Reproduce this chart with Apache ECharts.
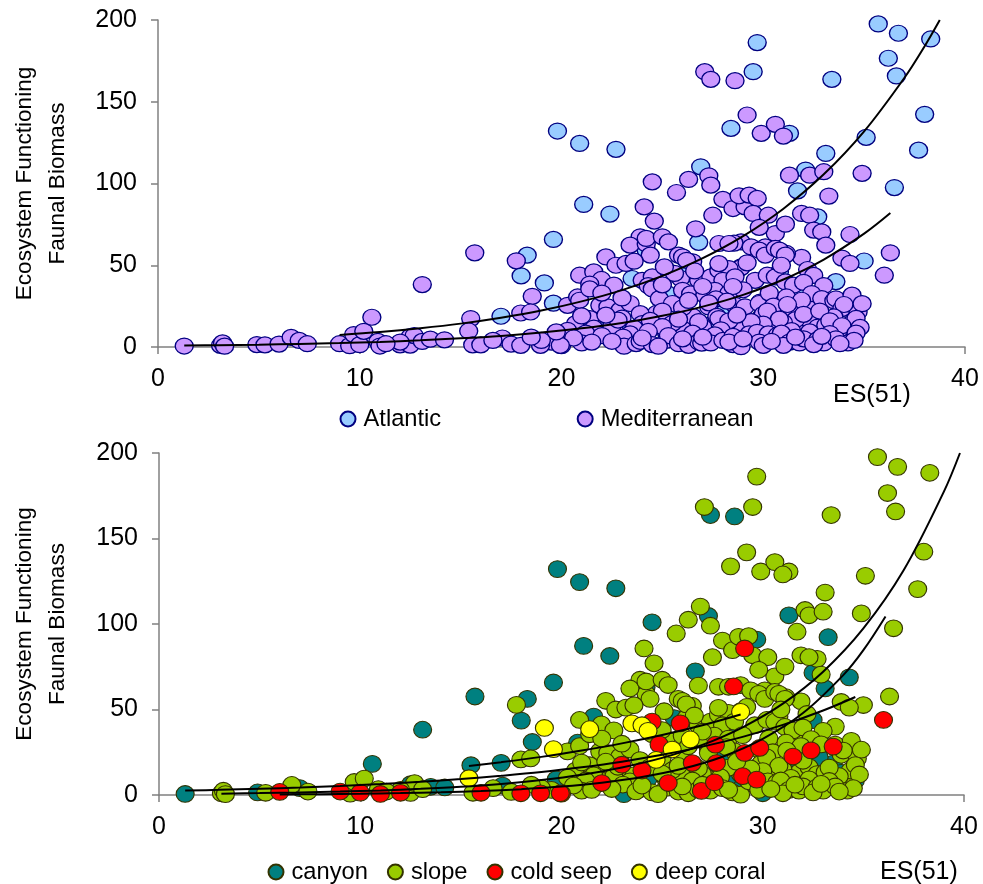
<!DOCTYPE html>
<html>
<head>
<meta charset="utf-8">
<script src="https://cdn.jsdelivr.net/npm/echarts@6/dist/echarts.min.js"></script>
<style>
html,body{margin:0;padding:0;background:#fff;}
#chart{width:983px;height:884px;}
</style>
</head>
<body>
<div id="chart"></div>
<script>
// ---- DATA ----
// each point: [ES(51), faunal biomass, habitat code]  (c = canyon, s = slope, r = cold seep, y = deep coral)
const atlantic = [
  [19.8,132.1,'c'],[20.9,124.5,'c'],[22.7,120.9,'c'],
  [29.7,186.2,'s'],[29.5,168.4,'s'],[35.7,197.6,'s'],[36.7,191.9,'s'],[38.3,188.4,'s'],[36.2,176.6,'s'],
  [36.6,165.8,'s'],[33.4,163.7,'s'],[38.0,142.3,'s'],[28.4,133.7,'s'],[31.3,130.7,'s'],[37.7,120.4,'s'],
  [35.1,128.2,'s'],[33.1,118.4,'s'],[26.9,110.2,'s'],[32.1,108.2,'s'],[36.5,97.5,'s'],[31.7,95.5,'s'],
  [21.1,87.2,'c'],[22.4,81.3,'c'],[19.6,65.8,'c'],[26.8,64.0,'s'],[32.7,79.6,'s'],[35.0,52.6,'s'],[30.8,45.9,'s'],
  [18.3,56.2,'c'],[18.0,43.5,'c'],[19.15,39.2,'y'],[19.6,26.8,'y'],[17.0,18.8,'c'],[23.5,41.9,'y'],[24.2,59.2,'s'],
  [21.2,4.5,'c'],[27.5,14.3,'s'],[29.6,6.1,'s'],[34.4,6.1,'s'],[28.9,49.0,'s'],
  [25.2,33.0,'s'],[22.0,14.0,'s'],[30.2,20.0,'s'],[26.2,45.0,'s'],[31.9,35.0,'s'],[28.0,22.0,'c'],[33.6,40.0,'s'],[23.0,10.0,'s']
];
const mediterranean = [
  // upper scatter
  [27.1,168.4,'s'],[27.4,163.7,'c'],[28.6,162.9,'c'],[29.2,141.9,'s'],[29.9,130.7,'s'],[30.6,136.2,'s'],[31.0,129.0,'s'],
  [27.3,104.7,'c'],[27.4,99.0,'s'],[26.3,102.5,'s'],[24.5,101.0,'c'],[25.7,94.5,'s'],[31.3,105.1,'c'],[32.3,105.1,'s'],
  [33.0,107.2,'s'],[34.9,106.2,'s'],[33.25,92.3,'c'],[36.3,57.6,'s'],[36.0,43.9,'r'],
  [24.1,85.7,'s'],[24.6,77.0,'s'],[27.5,80.6,'s'],[28.0,90.3,'s'],[28.5,84.7,'s'],[29.1,85.7,'r'],[28.8,92.5,'s'],
  [29.3,92.9,'s'],[29.7,90.9,'c'],[29.5,81.7,'s'],[30.25,80.6,'s'],[30.6,69.4,'s'],[31.1,75.1,'s'],[29.8,73.2,'s'],
  [26.65,72.3,'c'],[31.9,81.7,'s'],[32.3,80.6,'s'],[32.5,71.5,'c'],[32.9,70.4,'s'],[33.1,62.3,'c'],[34.3,68.8,'c'],
  [33.9,54.4,'s'],[34.3,51.1,'s'],[31.9,54.8,'s'],[32.2,47.4,'s'],[32.5,43.8,'c'],[30.1,61.2,'s'],[31.15,57.2,'s'],
  [28.9,64.3,'s'],[28.55,63.5,'r'],[29.4,61.2,'s'],[29.8,59.2,'s'],[30.1,56.2,'s'],[30.6,60.3,'s'],[30.8,59.2,'s'],
  [31.1,56.2,'s'],[27.8,63.3,'s'],[28.3,63.3,'s'],[28.9,48.6,'y'],
  // middle band
  [23.9,67.4,'s'],[23.4,62.3,'s'],[24.2,63.0,'c'],[24.2,66.4,'s'],[25.0,67.4,'s'],[25.3,64.3,'s'],[24.4,56.2,'s'],
  [25.8,56.2,'s'],[26.0,55.1,'s'],[26.5,52.1,'s'],[26.2,53.0,'s'],[22.2,55.1,'s'],[22.7,50.0,'s'],[23.2,51.1,'s'],
  [23.6,52.5,'s'],[20.9,43.9,'s'],[21.6,45.9,'c'],[21.98,41.3,'s'],[24.0,40.8,'y'],[24.5,42.9,'r'],[25.9,41.9,'r'],
  [25.6,45.0,'c'],[26.8,40.8,'s'],[27.4,42.9,'s'],[27.8,47.0,'s'],[28.3,48.0,'s'],[28.0,40.8,'s'],[28.6,42.9,'s'],
  [29.6,40.8,'s'],[30.2,43.9,'s'],[30.6,42.9,'s'],[31.1,39.8,'s'],[31.5,37.8,'s'],
  [27.8,51.0,'s'],[26.6,46.5,'s'],[25.1,49.0,'s'],[29.2,51.5,'s'],[30.9,50.0,'s'],[33.0,37.5,'s'],[32.0,39.5,'s'],
  // lower band
  [20.3,25.5,'s'],[20.8,30.6,'c'],[20.9,28.6,'s'],[21.4,38.5,'y'],[21.4,35.5,'s'],[22.6,37.8,'s'],[21.9,25.5,'s'],
  [22.3,24.5,'s'],[22.9,22.5,'s'],[23.4,26.6,'s'],[24.3,37.5,'y'],[24.5,35.5,'s'],[24.85,29.6,'r'],[25.5,26.6,'y'],
  [26.0,34.7,'s'],[26.4,32.5,'y'],[27.1,31.7,'s'],[27.6,34.7,'s'],[28.3,33.0,'s'],[27.65,29.4,'r'],[28.6,25.5,'s'],
  [27.3,24.5,'s'],[29.1,24.6,'r'],[29.85,27.5,'r'],[29.8,26.6,'s'],[31.15,30.6,'s'],[31.5,22.5,'r'],[32.4,26.1,'r'],
  [32.4,32.7,'s'],[32.9,29.6,'s'],[33.5,28.3,'r'],[33.6,29.5,'s'],[34.4,31.7,'s'],[31.9,28.6,'s'],[33.9,23.5,'s'],
  [34.7,21.4,'s'],[24.7,20.5,'y'],[26.5,18.7,'r'],[25.0,22.0,'s'],[26.0,24.0,'s'],[29.0,35.0,'s'],[30.3,33.0,'s'],
  [30.5,25.0,'s'],[25.0,38.0,'s'],[23.0,30.0,'s'],[22.0,33.0,'s'],[27.0,37.0,'s'],[28.5,37.0,'c'],
  [34.0,26.0,'s'],[34.9,26.5,'s'],[31.2,26.0,'s'],[28.2,28.0,'s'],[27.3,27.0,'c'],[26.3,28.5,'s'],
  [20.7,14.3,'s'],[21.4,17.4,'s'],[23.0,17.7,'r'],[23.9,20.4,'s'],[24.0,14.3,'r'],[24.4,16.3,'s'],[27.7,18.7,'r'],
  [27.8,17.4,'s'],[27.0,12.2,'s'],[29.9,18.4,'s'],[28.9,12.2,'s'],[29.0,11.0,'r'],[31.8,13.3,'s'],[32.3,16.3,'s'],
  [31.6,16.7,'c'],[32.7,12.2,'s'],[33.1,13.3,'s'],[33.5,18.4,'c'],[34.35,14.3,'s'],[20.3,10.2,'s'],[22.1,8.2,'s'],
  [22.6,11.0,'s'],[25.2,9.0,'s'],[26.0,11.0,'s'],[23.6,11.5,'s'],[25.5,14.5,'s'],[21.0,19.0,'s'],[22.5,13.0,'c'],
  [26.8,15.5,'s'],[28.3,16.0,'s'],[30.5,12.5,'s'],[31.0,15.0,'s'],[33.8,11.0,'s'],[34.6,17.5,'s'],[30.0,20.0,'c'],
  [30.2,22.0,'s'],[30.8,17.0,'s'],[31.4,10.0,'s'],[32.0,20.0,'s'],[32.8,22.0,'c'],[33.3,16.0,'s'],[33.9,13.0,'c'],
  [34.8,12.0,'s'],[30.0,14.0,'s'],[29.4,15.5,'s'],[28.7,19.5,'s'],[25.8,17.0,'s'],[25.0,12.5,'s'],[24.3,9.5,'c'],
  [23.4,8.0,'s'],[22.8,16.5,'s'],[22.2,19.5,'s'],[21.6,11.5,'s'],[21.2,8.5,'s'],[26.5,8.5,'s'],[27.9,10.5,'s'],
  // base
  [20.0,0.8,'r'],[21.0,2.5,'s'],[22.0,7.0,'r'],[23.05,6.1,'s'],[23.1,0.5,'c'],[23.7,2.1,'s'],[23.9,3.5,'c'],
  [24.5,1.5,'s'],[25.2,4.1,'s'],[25.3,7.0,'r'],[25.8,2.0,'s'],[26.3,1.0,'s'],[26.8,3.1,'s'],[26.95,2.4,'r'],
  [27.6,7.4,'r'],[27.4,2.5,'s'],[28.0,4.0,'s'],[28.5,1.5,'s'],[28.9,0.2,'s'],[29.3,8.0,'s'],[29.7,9.0,'r'],
  [30.25,8.0,'s'],[30.6,5.0,'c'],[30.7,7.2,'s'],[30.9,8.5,'s'],[31.3,3.0,'s'],[31.8,2.5,'s'],[32.3,9.2,'s'],
  [32.0,5.0,'s'],[32.7,4.5,'s'],[33.3,8.2,'s'],[33.0,2.5,'s'],[33.6,5.0,'s'],[34.6,8.5,'c'],[34.2,2.5,'s'],
  [34.5,4.0,'s'],[21.5,3.0,'s'],[22.5,3.5,'s'],[24.0,5.5,'s'],[20.6,5.5,'s'],[19.5,3.0,'s'],[27.0,6.0,'s'],
  [28.5,6.5,'c'],[26.0,5.0,'s'],[29.8,3.0,'s'],[31.0,1.0,'s'],[32.5,1.5,'s'],[30.0,1.0,'c'],[24.8,0.5,'s'],
  [28.3,3.0,'s'],[29.0,5.0,'c'],[32.9,6.5,'s'],[33.8,2.0,'s'],[31.6,6.0,'s'],[30.4,3.5,'s'],
  // left part
  [1.3,0.6,'c'],[3.1,1.0,'s'],[3.2,2.5,'s'],[3.3,0.5,'s'],[4.9,1.5,'c'],[5.3,1.3,'s'],[6.0,1.8,'r'],[6.6,5.9,'s'],
  [7.0,4.0,'c'],[7.4,2.0,'s'],[9.0,2.0,'r'],[9.5,0.8,'s'],[9.7,7.6,'s'],[10.0,1.4,'r'],[10.2,9.6,'s'],[10.6,18.2,'c'],
  [10.9,3.4,'s'],[11.0,0.6,'r'],[12.0,1.3,'r'],[12.5,6.3,'c'],[12.5,1.2,'s'],[12.7,7.0,'s'],[13.1,3.4,'s'],
  [13.1,38.2,'c'],[13.5,4.8,'c'],[14.2,4.4,'c'],[15.7,57.6,'c'],[15.5,17.4,'c'],[15.4,9.8,'y'],[15.6,1.3,'s'],
  [16.0,1.3,'r'],[17.07,5.5,'c'],[17.5,1.8,'s'],[17.98,1.0,'r'],[17.76,52.7,'s'],[18.55,31.0,'c'],[17.98,20.8,'s'],
  [18.47,21.4,'s'],[18.96,1.0,'r'],[19.94,1.0,'r'],[19.74,9.2,'c'],[16.6,4.0,'s'],[19.0,4.0,'s'],[18.5,6.0,'s'],
  [12.0,3.0,'s'],[11.3,2.0,'s']
];

// trend lines: [ES(51), biomass]
const trendTopUpper = [[9,7.4],[11,9.2],[13,11.5],[15,14.3],[17,17.9],[19,22.3],[21,27.9],[23,34.8],[25,43.5],[27,54.3],[29,67.8],[31,84.6],[33,105.6],[35,131.9],[37,164.7],[38,184],[38.75,200]];
const trendTopLower = [[1.3,0.9],[3,1.1],[5,1.4],[7,1.9],[9,2.4],[11,3.1],[13,4.1],[15,5.3],[17,6.8],[19,8.8],[21,11.4],[23,14.7],[25,19.1],[27,24.7],[29,31.9],[31,41.3],[33,53.5],[35,69.3],[36.3,81.9]];
const trendSlope = [[3.1,0.8],[5,1.1],[7,1.5],[9,2.0],[11,2.7],[13,3.6],[15,4.8],[17,6.5],[19,8.8],[21,11.9],[23,16.1],[25,21.7],[27,29.3],[29,39.6],[31,53.4],[33,72.1],[35,97.4],[37,131.4],[39,177.4],[39.8,200]];
const trendSeep = [[6,0.3],[8,0.5],[10,0.7],[12,1.1],[14,1.6],[16,2.3],[18,3.4],[20,4.9],[22,7.2],[24,10.5],[26,15.3],[28,22.4],[30,32.8],[32,47.9],[34,70.1],[35,84.7],[36.1,104.4]];
const trendCanyon = [[1.3,2.6],[3,3.0],[5,3.65],[7,4.4],[9,5.3],[11,6.4],[13,7.7],[15,9.3],[17,11.2],[19,13.4],[21,16.2],[23,19.5],[25,23.5],[27,28.3],[29,34.0],[31,41.0],[33,49.4],[34.6,57.3]];
const trendCoral = [[15.4,17.0],[17,19.2],[19,22.3],[21,26.0],[23,30.2],[25,35.1],[27,40.8],[28.9,47.1]];

const regionNames = ['Atlantic','Mediterranean'];
const habitatCodes = ['c','s','r','y'];
const habitatNames = ['canyon','slope','cold seep','deep coral'];
const xTicks = [0,10,20,30,40];
const yTicks = [0,50,100,150,200];

// ---- CHART ----
const FONT = '"Liberation Sans", Arial, Helvetica, sans-serif';
const chart = echarts.init(document.getElementById('chart'), null, {renderer:'canvas'});

function xAx(gi){
  return {
    gridIndex: gi, type:'value', min: xTicks[0], max: xTicks[xTicks.length-1], interval: xTicks[1]-xTicks[0],
    axisLine:{show:true, onZero:false, lineStyle:{color:'#808080', width:1.5}},
    axisTick:{show:true, length:7, lineStyle:{color:'#808080', width:1.5}},
    axisLabel:{fontSize:25, color:'#000', margin:20, fontFamily:FONT},
    splitLine:{show:false}
  };
}
function yAx(gi, gap){
  return {
    gridIndex: gi, type:'value', min: yTicks[0], max: yTicks[yTicks.length-1], interval: yTicks[1]-yTicks[0],
    name:'Ecosystem Functioning\nFaunal Biomass', nameLocation:'middle', nameGap:gap, nameRotate:90,
    nameTextStyle:{fontSize:22.6, lineHeight:33, color:'#000', fontFamily:FONT},
    axisLine:{show:true, lineStyle:{color:'#808080', width:1.5}},
    axisTick:{show:true, length:7, lineStyle:{color:'#808080', width:1.5}},
    axisLabel:{fontSize:25, color:'#000', margin:21, fontFamily:FONT},
    splitLine:{show:false}
  };
}
function trend(data, xi){
  return {type:'line', xAxisIndex:xi, yAxisIndex:xi, data:data, smooth:0.35,
    symbol:'none', showSymbol:false, silent:true, z:10, clip:true,
    lineStyle:{color:'#000', width:2}};
}

const regionColors = ['#99CCFF','#CC99FF'];
const habitatColors = ['#008080','#99CC00','#FF0000','#FFFF00'];
const allPts = atlantic.concat(mediterranean);

const series = [];
[atlantic, mediterranean].forEach((arr, i) => {
  series.push({
    name: regionNames[i], type:'scatter', xAxisIndex:0, yAxisIndex:0,
    data: arr.map(p => [p[0], p[1]]), symbol:'circle', symbolSize:[18,16], z:2+i,
    itemStyle:{color:regionColors[i], borderColor:'#000080', borderWidth:1.3, opacity:1}
  });
});
series.push(trend(trendTopUpper,0), trend(trendTopLower,0));
habitatCodes.forEach((code, i) => {
  series.push({
    name: habitatNames[i], type:'scatter', xAxisIndex:1, yAxisIndex:1,
    data: allPts.filter(p => p[2] === code).map(p => [p[0], p[1]]),
    symbol:'circle', symbolSize:[18,16.7], z:2+i,
    itemStyle:{color:habitatColors[i], borderColor:'#333300', borderWidth:1.1, opacity:1}
  });
});
series.push(trend(trendSlope,1), trend(trendSeep,1), trend(trendCanyon,1), trend(trendCoral,1));

const option = {
  animation:false,
  backgroundColor:'#fff',
  textStyle:{fontFamily:FONT},
  grid:[
    {left:151, top:20, width:814, height:327},
    {left:152, top:453, width:812, height:342}
  ],
  xAxis:[xAx(0), xAx(1)],
  yAxis:[yAx(0,84), yAx(1,85)],
  legend:[
    {data:regionNames, left:339.5, top:407, padding:0, itemGap:135.5, itemWidth:21, itemHeight:15,
     icon:'circle', textStyle:{fontSize:23.7, color:'#000', fontFamily:FONT}, selectedMode:false},
    {data:habitatNames, left:267.5, top:860, padding:0, itemGap:19, itemWidth:21, itemHeight:15,
     icon:'circle', textStyle:{fontSize:23.7, color:'#000', fontFamily:FONT}, selectedMode:false}
  ],
  graphic:[
    {type:'text', left:833, top:383, style:{text:'ES(51)', fontSize:25, fontFamily:FONT, fill:'#000'}},
    {type:'text', left:880, top:860, style:{text:'ES(51)', fontSize:25, fontFamily:FONT, fill:'#000'}}
  ],
  series: series
};
chart.setOption(option);
</script>
</body>
</html>
